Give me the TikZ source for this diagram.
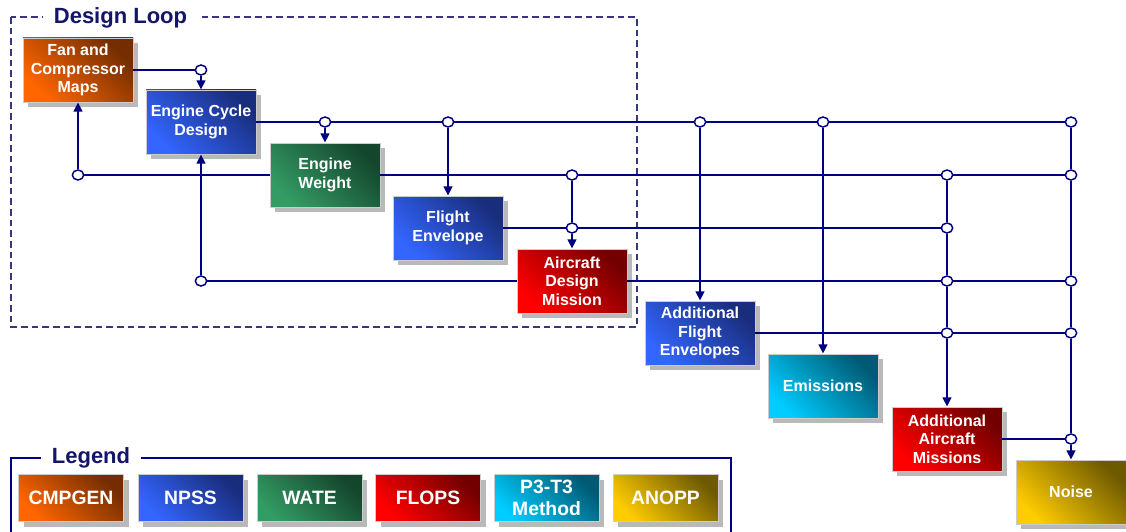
\documentclass[tikz,border=0pt]{standalone}
\usepackage{fontspec}
\setmainfont{Liberation Sans}
\usepackage{tikz}
\usetikzlibrary{shapes.geometric}
\usetikzlibrary{shadows}
\usetikzlibrary{arrows.meta}

\definecolor{navy}{RGB}{0,0,128}
\definecolor{titlenavy}{RGB}{20,20,105}
\definecolor{orgD}{RGB}{115,45,0}
\definecolor{orgL}{RGB}{255,102,0}
\definecolor{bluD}{RGB}{25,45,125}
\definecolor{bluL}{RGB}{51,102,255}
\definecolor{grnD}{RGB}{20,70,45}
\definecolor{grnL}{RGB}{51,155,100}
\definecolor{redD}{RGB}{115,0,0}
\definecolor{redL}{RGB}{255,0,0}
\definecolor{cynD}{RGB}{0,90,115}
\definecolor{cynL}{RGB}{0,204,255}
\definecolor{gldD}{RGB}{110,90,0}
\definecolor{gldL}{RGB}{255,204,0}

\begin{document}
\begin{tikzpicture}[x=0.75pt, y=-0.75pt,
    >={Triangle[length=7pt,width=6.5pt]},
    blk/.style={draw=white!80!black, line width=0.6pt, text=white, align=center,
        inner sep=1pt, drop shadow={shadow xshift=4pt, shadow yshift=-4pt, fill=gray!55, opacity=1}},
    tool/.style={blk, minimum width=82.5pt, minimum height=48pt,
        font=\fontsize{12}{14}\selectfont\bfseries},
    leg/.style={blk, minimum width=78.75pt, minimum height=35.5pt,
        font=\fontsize{14.5}{16}\selectfont\bfseries},
    cmp/.style={top color=orgD, bottom color=orgL, shading angle=-45},
    nps/.style={top color=bluD, bottom color=bluL, shading angle=-45},
    wat/.style={top color=grnD, bottom color=grnL, shading angle=-45},
    flo/.style={top color=redD, bottom color=redL, shading angle=-45},
    ptt/.style={top color=cynD, bottom color=cynL, shading angle=-45},
    ano/.style={top color=gldD, bottom color=gldL, shading angle=-45},
    jn/.style={ellipse, draw=navy, line width=1.1pt, fill=white, inner sep=0pt,
        minimum width=8.5pt, minimum height=7.5pt},
    wire/.style={draw=navy, line width=2pt},
    frametitle/.style={fill=white, text=titlenavy, inner xsep=8.5pt, inner ysep=1pt,
        font=\fontsize{16.5}{18}\selectfont\bfseries}]
    \useasboundingbox (0,0) rectangle (1126,531);

    % frames
    \draw[titlenavy!85, line width=0.8pt, dash pattern=on 5pt off 3pt] (11,17) rectangle (637,327);
    \node[frametitle] (dl) at (120.5,18) {Design Loop};
    \draw[navy, line width=0.8pt] (11,535) -- (11,458) -- (731,458) -- (731,535);
    \node[frametitle] (lg) at (91,458) {Legend};

    % tools
    \node[tool, cmp] (a) at (78,70) {Fan and\\Compressor\\Maps};
    \node[tool, nps] (b) at (201,122) {Engine Cycle\\Design};
    \node[tool, wat] (c) at (325,175) {Engine\\Weight};
    \node[tool, nps] (d) at (448,228) {Flight\\Envelope};
    \node[tool, flo] (e) at (572,281) {Aircraft\\Design\\Mission};
    \node[tool, nps] (f) at (700,333) {Additional\\Flight\\Envelopes};
    \node[tool, ptt] (g) at (823,386) {Emissions};
    \node[tool, flo] (h) at (947,439) {Additional\\Aircraft\\Missions};
    \node[tool, ano] (i) at (1071,492) {Noise};

    % legend
    \node[leg, cmp] (l1) at (71,498) {CMPGEN};
    \node[leg, nps] (l2) at (190.5,498) {NPSS};
    \node[leg, wat] (l3) at (309.5,498) {WATE};
    \node[leg, flo] (l4) at (428,498) {FLOPS};
    \node[leg, ptt] (l5) at (546.5,498) {P3-T3\\Method};
    \node[leg, ano] (l6) at (665.5,498) {ANOPP};

    % junctions
    \node[jn] (p1) at (201,70) {};
    \node[jn] (q1) at (325,122) {};
    \node[jn] (q2) at (448,122) {};
    \node[jn] (q3) at (700,122) {};
    \node[jn] (q4) at (823,122) {};
    \node[jn] (q5) at (1071,122) {};
    \node[jn] (r0) at (78,175) {};
    \node[jn] (r1) at (572,175) {};
    \node[jn] (r2) at (947,175) {};
    \node[jn] (r3) at (1071,175) {};
    \node[jn] (s1) at (572,228) {};
    \node[jn] (s2) at (947,228) {};
    \node[jn] (t0) at (201,281) {};
    \node[jn] (t1) at (947,281) {};
    \node[jn] (t2) at (1071,281) {};
    \node[jn] (u1) at (947,333) {};
    \node[jn] (u2) at (1071,333) {};
    \node[jn] (v1) at (1071,439) {};

    % wires
    \draw[wire] (a) -- (p1);
    \draw[wire, ->] (p1) -- (b);
    \draw[wire] (b) -- (q1) -- (q2) -- (q3) -- (q4) -- (q5);
    \draw[wire, ->] (q1) -- (c);
    \draw[wire, ->] (q2) -- (d);
    \draw[wire, ->] (q3) -- (f);
    \draw[wire, ->] (q4) -- (g);
    \draw[wire] (q5) -- (r3) -- (t2) -- (u2) -- (v1);
    \draw[wire, ->] (v1) -- (i);
    \draw[wire, ->] (r0) -- (a);
    \draw[wire] (r0) -- (c);
    \draw[wire] (c) -- (r1) -- (r2) -- (r3);
    \draw[wire] (r1) -- (s1);
    \draw[wire, ->] (s1) -- (e);
    \draw[wire] (d) -- (s1) -- (s2);
    \draw[wire] (r2) -- (s2) -- (t1) -- (u1);
    \draw[wire, ->] (u1) -- (h);
    \draw[wire, ->] (t0) -- (b);
    \draw[wire] (t0) -- (e);
    \draw[wire] (e) -- (t1) -- (t2);
    \draw[wire] (f) -- (u1) -- (u2);
    \draw[wire] (h) -- (v1);
\end{tikzpicture}
\end{document}
